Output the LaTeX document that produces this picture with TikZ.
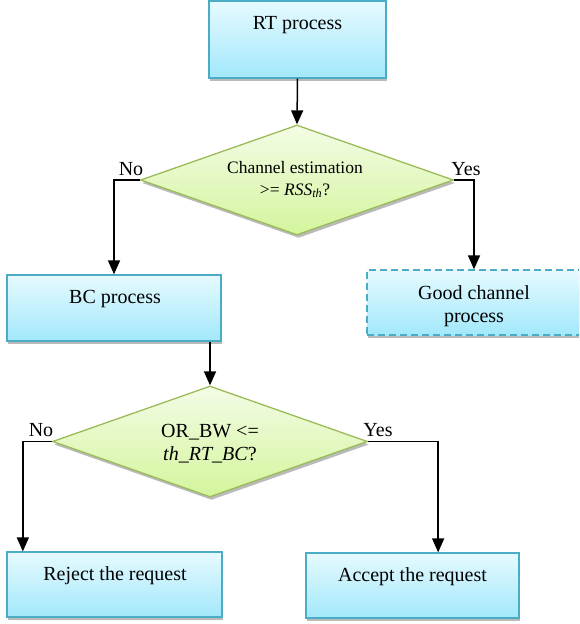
\documentclass[tikz,border=0pt]{standalone}
\usepackage{fontspec}
\setmainfont{Liberation Serif}[Ligatures=TeX]
\newfontfamily\tmsfont{Liberation Serif}
\usetikzlibrary{shapes.geometric,arrows.meta,shadows}
\definecolor{boxline}{HTML}{4BACC6}
\definecolor{boxtop}{HTML}{E6FAFF}
\definecolor{boxbot}{HTML}{A2E8FB}
\definecolor{dmline}{HTML}{9BBB59}
\definecolor{dmtop}{HTML}{F3FCE6}
\definecolor{dmbot}{HTML}{D4F59C}
\begin{document}
\begin{tikzpicture}[x=1pt,y=-1pt,
  procbox/.style={draw=boxline, line width=1.3pt, top color=boxtop, bottom color=boxbot,
    inner sep=0pt, drop shadow={shadow xshift=0.5pt, shadow yshift=-2.5pt, fill=black!45, opacity=0.6}},
  decbox/.style={diamond, draw=dmline, line width=1.3pt, top color=dmtop, bottom color=dmbot,
    inner sep=0pt, drop shadow={shadow xshift=1.5pt, shadow yshift=-3pt, fill=black!45, opacity=0.6}},
  bigtxt/.style={font=\tmsfont\fontsize{20}{23}\selectfont, inner sep=0pt, anchor=base},
  midtxt/.style={font=\tmsfont\fontsize{17.5}{21}\selectfont, inner sep=0pt, anchor=base},
  arr/.style={draw=black, line width=1.5pt, -{Triangle[length=14pt,width=12pt]}}
]
\clip (0,0) rectangle (579,624);
\fill[white] (0,0) rectangle (579,624);

% boxes
\node[procbox, minimum width=177pt, minimum height=77pt] (rt) at (297.5,39.5) {};
\node[bigtxt] (rtt) at (297.5,29) {RT process};

\node[decbox, minimum width=313pt, minimum height=110pt] (d1) at (297,180) {};
\node[midtxt] (d1a) at (295,173) {Channel estimation};
\node[midtxt] (d1b) at (295,195) {>= \textit{RSS}\textsubscript{\textit{th}}?};

\node[procbox, minimum width=214pt, minimum height=66pt] (bc) at (114,308) {};
\node[bigtxt] (bct) at (115,303) {BC process};

\node[procbox, dashed, dash pattern=on 7pt off 4pt, minimum width=214pt, minimum height=65pt] (gc) at (474,302.5) {};
\node[bigtxt] (gca) at (474,299) {Good channel};
\node[bigtxt] (gcb) at (474,322) {process};

\node[decbox, minimum width=315pt, minimum height=111pt] (d2) at (210,441.5) {};
\node[bigtxt] (d2a) at (210,437) {OR\_BW <=};
\node[bigtxt] (d2b) at (210,460) {\textit{th\_RT\_BC}?};

\node[procbox, minimum width=215pt, minimum height=65pt] (rj) at (114.5,584.5) {};
\node[bigtxt] (rjt) at (115,580) {Reject the request};

\node[procbox, minimum width=213pt, minimum height=65pt] (ac) at (412.5,585.5) {};
\node[bigtxt] (act) at (412.5,581) {Accept the request};

% labels
\node[bigtxt] (no1) at (131,175) {No};
\node[bigtxt] (yes1) at (466,175) {Yes};
\node[bigtxt] (no2) at (41,436) {No};
\node[bigtxt] (yes2) at (378,436) {Yes};

% connectors
\draw[arr] (rt.south) -- (d1.north);
\draw[arr] (d1.west) -| (bc.north);
\draw[arr] (d1.east) -| (gc.north);
\draw[arr] (bc.south -| d2.north) -- (d2.north);
\draw[arr] (d2.west) -- ++(-29,0) coordinate (nl) -- (nl |- rj.north);
\draw[arr] (d2.east) -- ++(70,0) coordinate (yr) -- (yr |- ac.north);
\end{tikzpicture}
\end{document}
